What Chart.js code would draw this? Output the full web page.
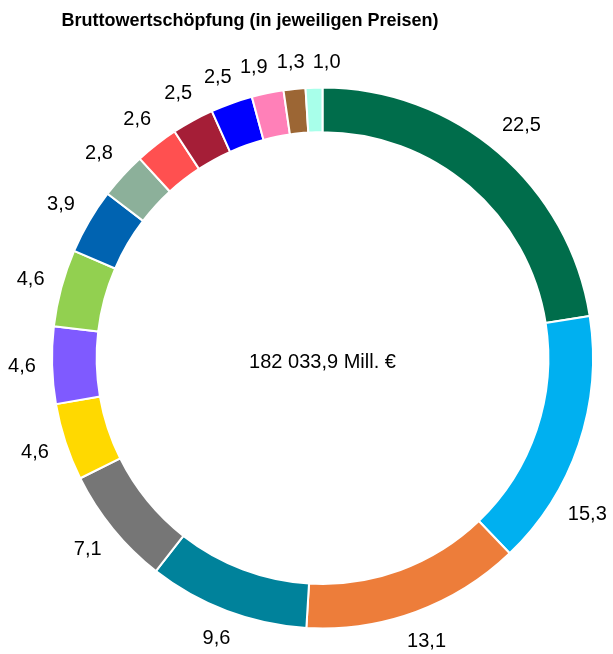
<!DOCTYPE html>
<html>
<head>
<meta charset="utf-8">
<script src="https://cdn.jsdelivr.net/npm/chart.js@4/dist/chart.umd.min.js"></script>
<style>
  html, body { margin: 0; padding: 0; background: #fff; }
  #wrap { width: 613px; height: 654px; position: relative; }
</style>
</head>
<body>
<div id="wrap"><canvas id="chart"></canvas></div>
<script>
// Data (shares in %)
const titleText = 'Bruttowertschöpfung (in jeweiligen Preisen)';
const totalValue = 182033.9;
const totalUnit = 'Mill. €';
const sectors = [
  'Bereich 1', 'Bereich 2', 'Bereich 3', 'Bereich 4', 'Bereich 5', 'Bereich 6',
  'Bereich 7', 'Bereich 8', 'Bereich 9', 'Bereich 10', 'Bereich 11', 'Bereich 12',
  'Bereich 13', 'Bereich 14', 'Bereich 15', 'Bereich 16'
];
const shares = [22.5, 15.3, 13.1, 9.6, 7.1, 4.6, 4.6, 4.6, 3.9, 2.8, 2.6, 2.5, 2.5, 1.9, 1.3, 1.0];
const sectorColors = [
  '#006D4B', '#00B0F0', '#ED7D3A', '#00829B', '#767676', '#FFD900',
  '#7F5AFF', '#92D050', '#0063B1', '#8CB09A', '#FF5050', '#A51E37',
  '#0000FF', '#FF80B8', '#9C6634', '#A8FFEA'
];

const fmt = v => v.toFixed(1).replace('.', ',');
const fmtTotal = v => {
  const [i, d] = v.toFixed(1).split('.');
  return i.replace(/\B(?=(\d{3})+(?!\d))/g, ' ') + ',' + d;
};

// draws title, value labels round the ring and the total in the middle
const ringText = {
  id: 'ringText',
  afterDraw(chart) {
    const ctx = chart.ctx;
    const meta = chart.getDatasetMeta(0);
    const W = chart.width;
    ctx.save();
    ctx.fillStyle = '#000';

    ctx.font = 'bold 18px "Liberation Sans", Arial, sans-serif';
    ctx.textAlign = 'center';
    ctx.textBaseline = 'alphabetic';
    ctx.fillText(titleText, 250, 26);

    ctx.font = '20px "Liberation Sans", Arial, sans-serif';
    ctx.textBaseline = 'middle';
    const h = 18, padX = 8, padY = 4;

    const labels = meta.data.map((arc, i) => {
      const p = arc.getProps(['x', 'y', 'startAngle', 'endAngle', 'outerRadius'], true);
      const txt = fmt(shares[i]);
      return { p, txt, w: ctx.measureText(txt).width, a: (p.startAngle + p.endAngle) / 2 };
    });
    const place = l => {
      const dx = Math.cos(l.a), dy = Math.sin(l.a);
      const r = l.p.outerRadius + 16 + Math.abs(dx) * l.w / 2 + Math.abs(dy) * h / 2;
      l.x = l.p.x + dx * r;
      l.y = l.p.y + dy * r;
    };
    const hits = (a, b) =>
      Math.abs(a.x - b.x) < (a.w + b.w) / 2 + padX && Math.abs(a.y - b.y) < h + padY;

    // keep labels inside the canvas and apart from each other
    const step = Math.PI / 900;
    for (let k = 0; k < 400; k++) {
      labels.forEach(place);
      let moved = false;
      labels.forEach(l => {
        if (l.x + l.w / 2 > W - 6 || l.x - l.w / 2 < 6) {
          l.a += step * Math.sign(Math.cos(l.a) * Math.sin(l.a));
          moved = true;
        }
      });
      for (let i = 0; i < labels.length - 1; i++) {
        if (hits(labels[i], labels[i + 1])) {
          labels[i].a -= step;
          labels[i + 1].a += step;
          moved = true;
        }
      }
      if (!moved) break;
    }
    labels.forEach(l => { place(l); ctx.fillText(l.txt, l.x, l.y); });

    const c = meta.data[0];
    ctx.fillText(fmtTotal(totalValue) + ' ' + totalUnit, c.x, c.y + 4);
    ctx.restore();
  }
};

new Chart(document.getElementById('chart'), {
  type: 'doughnut',
  data: {
    labels: sectors,
    datasets: [{
      data: shares,
      backgroundColor: sectorColors,
      borderColor: '#ffffff',
      borderWidth: 2
    }]
  },
  options: {
    responsive: true,
    maintainAspectRatio: false,
    animation: false,
    cutout: '83.5%',
    layout: { padding: { top: 86, left: 51, right: 19, bottom: 24 } },
    plugins: {
      legend: { display: false },
      title: { display: false },
      tooltip: { enabled: false }
    }
  },
  plugins: [ringText]
});
</script>
</body>
</html>
